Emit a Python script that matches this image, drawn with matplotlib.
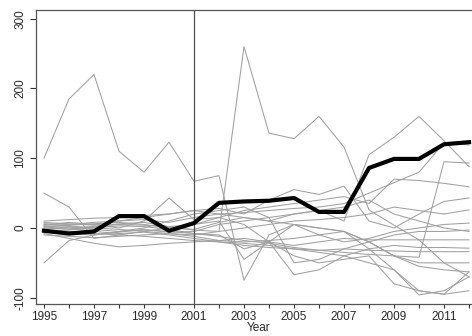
"""
Spaghetti plot of yearly series, 1995-2012, with one highlighted series.
"""
import numpy as np
import matplotlib
matplotlib.use("Agg")
import matplotlib.pyplot as plt

years = list(range(1995, 2013))

# highlighted series
main_series = [-4, -8, -5, 17, 17, -4, 7, 36, 38, 39, 43, 23, 23, 86, 99, 99, 120, 123]

# background series
gray_series = [
    [100, 185, 220, 110, 80, 123, 67, 75, -75, -10, 5, 0, -5, -20, -40, -55, -60, -63],
    [3, 0, 2, 6, 8, 2, -3, -5, 260, 136, 128, 160, 116, 26, 4, -17, -50, -70],
    [2, 4, 6, 8, 5, 0, -2, 8, 15, 10, 20, 25, 10, 105, 130, 160, 125, 88],
    [-5, -3, 0, 3, 2, -2, -8, -12, -18, -22, -28, -32, -35, -38, -40, -42, 95, 93],
    [6, 5, 8, 10, 12, 8, 15, 20, 22, 25, 28, 30, 35, 50, 65, 80, 122, 119],
    [0, -2, 2, 5, 4, 2, 5, 15, 25, 30, 35, 40, 45, 35, 70, 68, 64, 59],
    [8, 6, 4, 10, 15, 20, 25, 28, 20, 40, 55, 48, 60, 10, 0, 20, 38, 43],
    [-10, -12, -14, -12, -10, -8, -10, -5, 0, 5, 10, 12, 15, 20, 30, 25, 20, 26],
    [50, 30, -15, -10, -5, 0, 5, 10, -45, -20, 5, -10, -20, -15, -5, 0, 5, 7],
    [-50, -18, -10, -5, 0, 10, 20, 25, 30, 15, -50, -45, -30, -20, -10, -5, -5, -3],
    [-8, -15, -22, -27, -25, -22, -20, -18, -15, -20, -25, -20, -15, -17, -17, -17, -17, -17],
    [4, 8, 5, 0, 10, 43, 12, 15, 5, -20, -67, -60, -40, -30, -25, -28, -28, -29],
    [-2, 0, -5, -8, -6, -10, -15, -20, -25, -28, -30, -32, -30, -32, -33, -34, -34, -34],
    [10, 12, 14, 15, 18, 20, 25, 20, 15, 10, 5, 0, -5, -20, -40, -50, -50, -50],
    [0, 2, -2, -5, -3, -5, -8, -10, -30, -20, -40, -50, -45, -40, -80, -90, -95, -63],
    [-3, -5, -8, -10, -12, -15, -18, -20, -22, -25, -30, -35, -40, -50, -60, -96, -90, -70],
    [5, 3, 0, -2, -5, -8, -12, -18, -20, -18, -15, -10, -5, -30, -60, -90, -95, -90],
    [-6, -8, -10, -6, -2, -6, -5, 5, 10, 15, 20, 25, 30, 40, 20, 10, 0, -5],
]

y_ticks = [-100, 0, 100, 200, 300]
x_labels = list(range(1995, 2013, 2))
break_year = 2001

plt.rcParams.update({
    "font.family": "sans-serif",
    "font.sans-serif": ["Liberation Sans", "DejaVu Sans"],
    "font.size": 8.5,
})

W, H = 472, 336
fig = plt.figure(figsize=(W / 100, H / 100), dpi=100)
ax = fig.add_axes([36 / W, 1 - 304 / H, (W - 36) / W, (304 - 10) / H])

for s in gray_series:
    ax.plot(years, s, color="#a0a0a0", linewidth=0.75, zorder=2)
ax.plot(years, main_series, color="black", linewidth=3.0, zorder=4,
        solid_joinstyle="round")
ax.axvline(break_year, color="#505050", linewidth=0.9, zorder=3)

ax.set_xlim(1994.68, 2012.12)
ax.set_ylim(-109, 312.5)

ax.set_xticks(years)
ax.set_xticklabels([str(y) if y in x_labels else "" for y in years])
ax.set_yticks(y_ticks)
ax.set_yticklabels([str(v) for v in y_ticks], rotation=90, va="center")
ax.tick_params(axis="both", direction="out", length=3, width=0.8,
               colors="#333333", labelcolor="#2a2a2a", pad=2)
ax.tick_params(axis="y", length=4, pad=3)

ax.set_xlabel("Year", color="#2a2a2a", va="top")
ax.xaxis.set_label_coords(0.51, -0.062)

for side in ("left", "bottom", "top"):
    ax.spines[side].set_color("#555555")
    ax.spines[side].set_linewidth(0.9)
ax.spines["right"].set_visible(False)

fig.savefig("out.png", dpi=100, facecolor="white")
